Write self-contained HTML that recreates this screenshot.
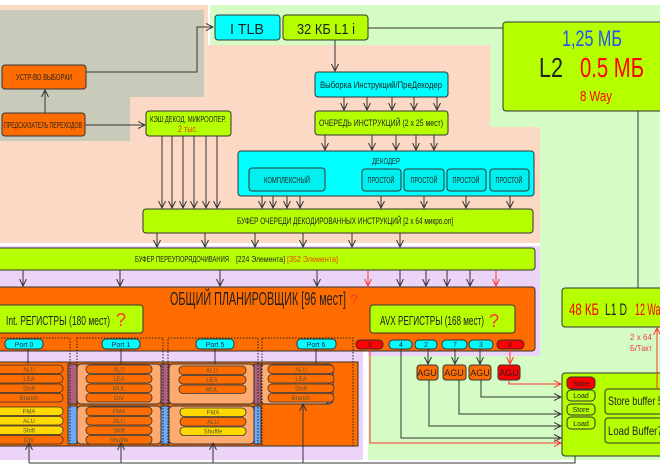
<!DOCTYPE html>
<html><head><meta charset="utf-8"><style>
html,body{margin:0;padding:0;background:#fff;width:660px;height:470px;overflow:hidden}
svg{display:block}
text{font-family:"Liberation Sans","DejaVu Sans",sans-serif}
</style></head><body>
<svg width="660" height="470" viewBox="0 0 660 470" xmlns="http://www.w3.org/2000/svg">
<defs>
<marker id="a" markerWidth="8" markerHeight="8" refX="7" refY="4" orient="auto" markerUnits="userSpaceOnUse"><path d="M0,0.5 L7,4 L0,7.5" fill="none" stroke="#333" stroke-width="1"/></marker>
<marker id="r" markerWidth="8" markerHeight="8" refX="7" refY="4" orient="auto" markerUnits="userSpaceOnUse"><path d="M0,0.5 L7,4 L0,7.5" fill="none" stroke="#f33" stroke-width="1"/></marker>
</defs>
<!-- backgrounds -->
<rect x="0" y="0" width="660" height="470" fill="#fff"/>
<rect x="0" y="5" width="208" height="240" fill="#fcd9c4"/>
<rect x="210" y="5" width="450" height="455" fill="#d4fcc4"/>
<polygon points="208,45 490,45 490,127 540,127 540,245 208,245" fill="#fcd9c4"/>
<polygon points="0,10 204,10 204,97 130,97 130,141 0,141" fill="#c8cbb9"/>
<polygon points="0,245 540,245 540,356 365,356 365,460 0,460" fill="#ecd3f8"/>
<rect x="0" y="243" width="540" height="3" fill="#fff"/>
<rect x="0" y="460" width="660" height="10" fill="#fff"/>
<rect x="363" y="350" width="5" height="110" fill="#fff"/>

<g stroke="#333" stroke-width="1">
<!-- top boxes -->
<rect x="215" y="15" width="65" height="25" rx="3" fill="#00ffff"/>
<rect x="283" y="15" width="85" height="25" rx="3" fill="#b5ff00"/>
<rect x="503" y="22" width="165" height="89" rx="3" fill="#b5ff00"/>
<rect x="2" y="65" width="84" height="24" rx="3" fill="#ff6d00"/>
<rect x="2" y="113" width="83" height="23" rx="3" fill="#ff6d00"/>
<rect x="146" y="111" width="85" height="25" rx="3" fill="#b5ff00"/>
<rect x="315" y="72" width="133" height="25" rx="3" fill="#00ffff"/>
<rect x="315" y="111" width="133" height="24" rx="3" fill="#b5ff00"/>
<rect x="238" y="151" width="296" height="45" rx="3" fill="#00ffff"/>
<rect x="249" y="168" width="76" height="23" rx="3" fill="#00f0f0"/>
<rect x="362" y="169" width="39" height="22" rx="3" fill="#00f0f0"/>
<rect x="404" y="169" width="40" height="22" rx="3" fill="#00f0f0"/>
<rect x="447" y="169" width="39" height="22" rx="3" fill="#00f0f0"/>
<rect x="490" y="169" width="39" height="22" rx="3" fill="#00f0f0"/>
<rect x="143" y="209" width="390" height="24" rx="3" fill="#b5ff00"/>
<rect x="-5" y="248" width="540" height="22" rx="3" fill="#b5ff00"/>
<rect x="-5" y="287" width="540" height="64" rx="3" fill="#ff6d00"/>
<rect x="-5" y="305" width="148" height="28" rx="3" fill="#b5ff00"/>
<rect x="370" y="305" width="145" height="28" rx="3" fill="#b5ff00"/>
<rect x="562" y="288" width="110" height="39" rx="3" fill="#b5ff00"/>
<rect x="562" y="373" width="110" height="83" rx="3" fill="#b5ff00"/>
<rect x="605" y="389" width="70" height="25" rx="3" fill="#b5ff00"/>
<rect x="605" y="418" width="70" height="25" rx="3" fill="#b5ff00"/>
<rect x="567" y="377" width="28" height="12" rx="4" fill="#ff0000"/>
<rect x="567" y="390" width="28" height="11" rx="4" fill="#b5ff00"/>
<rect x="567" y="404" width="28" height="11" rx="4" fill="#b5ff00"/>
<rect x="567" y="417" width="28" height="12" rx="4" fill="#b5ff00"/>
<!-- AGUs -->
<rect x="417" y="365" width="21" height="15" rx="3" fill="#ff6d00"/>
<rect x="443" y="365" width="23" height="15" rx="3" fill="#ff6d00"/>
<rect x="469" y="365" width="22" height="15" rx="3" fill="#ff6d00"/>
<rect x="498" y="365" width="22" height="15" rx="3" fill="#ff0000"/>
<!-- ports -->
<rect x="5" y="339" width="38" height="10" rx="4" fill="#00ffff"/>
<rect x="102" y="339" width="38" height="10" rx="4" fill="#00ffff"/>
<rect x="196" y="339" width="38" height="10" rx="4" fill="#00ffff"/>
<rect x="297" y="339" width="39" height="10" rx="4" fill="#00ffff"/>
<rect x="356" y="340" width="27" height="9" rx="4" fill="#ff0000"/>
<rect x="389" y="340" width="23" height="9" rx="4" fill="#00ffff"/>
<rect x="415" y="340" width="22" height="9" rx="4" fill="#00ffff"/>
<rect x="442" y="340" width="25" height="9" rx="4" fill="#00ffff"/>
<rect x="469" y="340" width="24" height="9" rx="4" fill="#00ffff"/>
<rect x="497" y="340" width="27" height="9" rx="4" fill="#ff0000"/>
</g>

<!-- execution units area -->
<rect x="-3" y="362" width="361" height="84" fill="#ff6d00" stroke="#333"/>
<g stroke="#333" stroke-width="1">
<rect x="68" y="364" width="9" height="40" fill="#b0607a"/>
<rect x="161" y="364" width="8" height="40" fill="#b0607a"/>
<rect x="254" y="364" width="7" height="40" fill="#b0607a"/>
<rect x="68" y="406" width="9" height="38" fill="#6fa8f0"/>
<rect x="161" y="406" width="8" height="38" fill="#6fa8f0"/>
<rect x="254" y="406" width="7" height="38" fill="#6fa8f0"/>
<rect x="77" y="364" width="84" height="40" rx="4" fill="#ffab70"/>
<rect x="169" y="364" width="85" height="40" rx="4" fill="#ffab70"/>
<rect x="77" y="406" width="84" height="38" rx="4" fill="#ffab70"/>
<rect x="169" y="406" width="85" height="38" rx="4" fill="#ffab70"/>
<rect x="261" y="364" width="72" height="40" rx="4" fill="#c47090"/>
<rect x="261" y="364" width="68" height="40" rx="4" fill="#ffab70"/>
</g>
<g stroke="#333" stroke-width="0.8" font-size="6" text-anchor="middle">
<!-- group 0 -->
<rect x="-5" y="365" width="68" height="8.5" rx="4" fill="#ff6d00"/>
<rect x="-5" y="374.5" width="68" height="8.5" rx="4" fill="#ff6d00"/>
<rect x="-5" y="384" width="68" height="8.5" rx="4" fill="#ff6d00"/>
<rect x="-5" y="393.5" width="68" height="8.5" rx="4" fill="#ff6d00"/>
<rect x="-5" y="407" width="68" height="8.5" rx="4" fill="#ffd800"/>
<rect x="-5" y="416.5" width="68" height="8.5" rx="4" fill="#ffd800"/>
<rect x="-5" y="426" width="68" height="8.5" rx="4" fill="#ffd800"/>
<rect x="-5" y="435.5" width="68" height="8.5" rx="4" fill="#ff6d00"/>
<!-- group 1 -->
<rect x="86" y="365" width="66" height="8.5" rx="4" fill="#ff6d00"/>
<rect x="86" y="374.5" width="66" height="8.5" rx="4" fill="#ff6d00"/>
<rect x="86" y="384" width="66" height="8.5" rx="4" fill="#ff6d00"/>
<rect x="86" y="393.5" width="66" height="8.5" rx="4" fill="#ff6d00"/>
<rect x="86" y="407" width="66" height="8.5" rx="4" fill="#ff6d00"/>
<rect x="86" y="416.5" width="66" height="8.5" rx="4" fill="#ff6d00"/>
<rect x="86" y="426" width="66" height="8.5" rx="4" fill="#ff6d00"/>
<rect x="86" y="435.5" width="66" height="8.5" rx="4" fill="#ff6d00"/>
<!-- group 5 -->
<rect x="179" y="366" width="67" height="8.5" rx="4" fill="#ff6d00"/>
<rect x="179" y="375.5" width="67" height="8.5" rx="4" fill="#ff6d00"/>
<rect x="179" y="385" width="67" height="8.5" rx="4" fill="#ff6d00"/>
<rect x="180" y="408" width="66" height="8.5" rx="4" fill="#ffd800"/>
<rect x="180" y="417.5" width="66" height="8.5" rx="4" fill="#ff6d00"/>
<rect x="180" y="427" width="66" height="8.5" rx="4" fill="#ffd800"/>
<!-- group 6 -->
<rect x="268" y="365" width="66" height="8.5" rx="4" fill="#ff6d00"/>
<rect x="268" y="374.5" width="66" height="8.5" rx="4" fill="#ff6d00"/>
<rect x="268" y="384" width="66" height="8.5" rx="4" fill="#ff6d00"/>
<rect x="268" y="393.5" width="66" height="8.5" rx="4" fill="#ff6d00"/>
</g>
<g font-size="6" fill="#553" text-anchor="middle">
<text x="29" y="371.5">ALU</text><text x="29" y="381">LEA</text><text x="29" y="390.5">Shift</text><text x="29" y="400">Branch</text>
<text x="29" y="413.5">FMA</text><text x="29" y="423">ALU</text><text x="29" y="432.5">Shift</text><text x="29" y="442">DIV</text>
<text x="119" y="371.5">ALU</text><text x="119" y="381">LEA</text><text x="119" y="390.5">MUL</text><text x="119" y="400">DIV</text>
<text x="119" y="413.5">FMA</text><text x="119" y="423">ALU</text><text x="119" y="432.5">Shift</text><text x="119" y="442">Shuffle</text>
<text x="212" y="372.5">ALU</text><text x="212" y="382">LEA</text><text x="212" y="391.5">MUL</text>
<text x="213" y="414.5">FMA</text><text x="213" y="424">ALU</text><text x="213" y="433.5">Shuffle</text>
<text x="301" y="371.5">ALU</text><text x="301" y="381">LEA</text><text x="301" y="390.5">Shift</text><text x="301" y="400">Branch</text>
</g>
<!-- dotted outlines -->
<g fill="none" stroke="#222" stroke-width="1" stroke-dasharray="1.5,1.5">
<rect x="-2" y="338" width="72" height="108"/>
<rect x="77" y="338" width="86" height="108"/>
<rect x="168" y="338" width="90" height="108"/>
<rect x="262" y="338" width="91" height="108"/>
</g>

<!-- connectors -->
<g fill="none" stroke="#333" stroke-width="1">
<path d="M86,72 H197 V27 H213" marker-end="url(#a)"/>
<path d="M45,113 V90" marker-end="url(#a)"/>
<path d="M85,125 H145" marker-end="url(#a)"/>
<path d="M368,28 H503"/>
<path d="M638,111 V288"/>
<path d="M335,40 V71" marker-end="url(#a)"/>
<path d="M344,97V110M367,97V110M392,97V110M414,97V110M437,97V110" marker-end="url(#a)"/>
<path d="M344,97V110" marker-end="url(#a)"/><path d="M367,97V110" marker-end="url(#a)"/><path d="M392,97V110" marker-end="url(#a)"/><path d="M414,97V110" marker-end="url(#a)"/>
<path d="M325,135V150" marker-end="url(#a)"/><path d="M372,135V150" marker-end="url(#a)"/><path d="M396,135V150" marker-end="url(#a)"/><path d="M416,135V150" marker-end="url(#a)"/><path d="M434,135V150" marker-end="url(#a)"/>
<path d="M162,136V208" marker-end="url(#a)"/><path d="M172,136V208" marker-end="url(#a)"/><path d="M183,136V208" marker-end="url(#a)"/><path d="M194,136V208" marker-end="url(#a)"/><path d="M206,136V208" marker-end="url(#a)"/><path d="M217,136V208" marker-end="url(#a)"/>
<path d="M262,196V208" marker-end="url(#a)"/><path d="M273,196V208" marker-end="url(#a)"/><path d="M287,196V208" marker-end="url(#a)"/><path d="M300,196V208" marker-end="url(#a)"/>
<path d="M381,196V208" marker-end="url(#a)"/><path d="M424,196V208" marker-end="url(#a)"/><path d="M466,196V208" marker-end="url(#a)"/><path d="M510,196V208" marker-end="url(#a)"/>
<path d="M157,233V247" marker-end="url(#a)"/><path d="M205,233V247" marker-end="url(#a)"/><path d="M255,233V247" marker-end="url(#a)"/><path d="M303,233V247" marker-end="url(#a)"/><path d="M352,233V247" marker-end="url(#a)"/><path d="M400,233V247" marker-end="url(#a)"/>
<path d="M23,270V286" marker-end="url(#a)"/><path d="M120,270V286" marker-end="url(#a)"/><path d="M220,270V286" marker-end="url(#a)"/><path d="M317,270V286" marker-end="url(#a)"/>
<path d="M400,270V286" marker-end="url(#a)"/><path d="M426,270V286" marker-end="url(#a)"/><path d="M447,270V286" marker-end="url(#a)"/><path d="M470,270V286" marker-end="url(#a)"/>
<path d="M28,349V364M121,349V364M215,349V364M316,349V364"/>
<path d="M428,349V364" marker-end="url(#a)"/><path d="M455,349V364" marker-end="url(#a)"/><path d="M480,349V364" marker-end="url(#a)"/>
<path d="M401,349V438H561" marker-end="url(#a)"/>
<path d="M429,380V426H561" marker-end="url(#a)"/>
<path d="M459,380V414H561" marker-end="url(#a)"/>
<path d="M481,380V397H561" marker-end="url(#a)"/>
<path d="M29,463V443" marker-end="url(#a)"/><path d="M121,463V443" marker-end="url(#a)"/><path d="M213,463V443" marker-end="url(#a)"/><path d="M303,463V404" marker-end="url(#a)"/>
<path d="M29,463H575V456"/>
</g>
<g fill="none" stroke="#f33" stroke-width="1">
<path d="M368,270V286" marker-end="url(#r)"/><path d="M496,270V286" marker-end="url(#r)"/>
<path d="M510,349V364" marker-end="url(#r)"/>
<path d="M509,380V384H561" marker-end="url(#r)"/>
<path d="M370,349V443H561" marker-end="url(#r)"/>
<path d="M657,389V328" marker-end="url(#r)"/>
</g>

<!-- text -->
<g fill="#222" text-anchor="middle">
<text x="247" y="34" font-size="15" textLength="34" lengthAdjust="spacingAndGlyphs">I TLB</text>
<text x="326" y="34" font-size="15" textLength="58" lengthAdjust="spacingAndGlyphs">32 КБ L1 i</text>
<text x="592" y="46" font-size="22" fill="#2255ee" textLength="60" lengthAdjust="spacingAndGlyphs">1,25 МБ</text>
<text x="551" y="77" font-size="28" textLength="24" lengthAdjust="spacingAndGlyphs">L2</text>
<text x="612" y="77" font-size="28" fill="#f00" textLength="64" lengthAdjust="spacingAndGlyphs">0.5 МБ</text>
<text x="596" y="101" font-size="15" fill="#f00" textLength="32" lengthAdjust="spacingAndGlyphs">8 Way</text>
<text x="44" y="80" font-size="8" textLength="56" lengthAdjust="spacingAndGlyphs">УСТР-ВО ВЫБОРКИ</text>
<text x="43" y="128" font-size="8" textLength="78" lengthAdjust="spacingAndGlyphs">ПРЕДСКАЗАТЕЛЬ ПЕРЕХОДОВ</text>
<text x="188" y="122" font-size="8" textLength="76" lengthAdjust="spacingAndGlyphs">КЭШ ДЕКОД. МИКРООПЕР.</text>
<text x="188" y="132" font-size="9" fill="#f04000" textLength="20" lengthAdjust="spacingAndGlyphs">2 тыс.</text>
<text x="381" y="88" font-size="9" textLength="122" lengthAdjust="spacingAndGlyphs">Выборка Инструкций/ПреДекодер</text>
<text x="381" y="126" font-size="9" textLength="124" lengthAdjust="spacingAndGlyphs">ОЧЕРЕДЬ ИНСТРУКЦИЙ (2 х 25 мест)</text>
<text x="386" y="164" font-size="8" textLength="28" lengthAdjust="spacingAndGlyphs">ДЕКОДЕР</text>
<text x="287" y="183" font-size="8" textLength="46" lengthAdjust="spacingAndGlyphs">КОМПЛЕКСНЫЙ</text>
<text x="381" y="183" font-size="8" textLength="27" lengthAdjust="spacingAndGlyphs">ПРОСТОЙ</text>
<text x="424" y="183" font-size="8" textLength="27" lengthAdjust="spacingAndGlyphs">ПРОСТОЙ</text>
<text x="466" y="183" font-size="8" textLength="27" lengthAdjust="spacingAndGlyphs">ПРОСТОЙ</text>
<text x="509" y="183" font-size="8" textLength="27" lengthAdjust="spacingAndGlyphs">ПРОСТОЙ</text>
<text x="345" y="224" font-size="9" textLength="216" lengthAdjust="spacingAndGlyphs">БУФЕР ОЧЕРЕДИ ДЕКОДИРОВАННЫХ ИНСТРУКЦИЙ  [2 х 64 микро.оп]</text>
<text x="135" y="262" font-size="8" text-anchor="start" textLength="94" lengthAdjust="spacingAndGlyphs">БУФЕР ПЕРЕУПОРЯДОЧИВАНИЯ</text>
<text x="236" y="262" font-size="8" text-anchor="start" textLength="49" lengthAdjust="spacingAndGlyphs">[224 Элемента]</text>
<text x="287" y="262" font-size="8" text-anchor="start" fill="#f04000" textLength="51" lengthAdjust="spacingAndGlyphs">[352 Элемента]</text>
<text x="170" y="305" font-size="18" text-anchor="start" textLength="176" lengthAdjust="spacingAndGlyphs">ОБЩИЙ ПЛАНИРОВЩИК [96 мест]</text>
<text x="354" y="304" font-size="14" fill="#f33">?</text>
<text x="58" y="325" font-size="13" textLength="104" lengthAdjust="spacingAndGlyphs">Int. РЕГИСТРЫ (180 мест)</text>
<text x="121" y="326" font-size="18" fill="#f33">?</text>
<text x="432" y="325" font-size="13" textLength="104" lengthAdjust="spacingAndGlyphs">AVX РЕГИСТРЫ (168 мест)</text>
<text x="494" y="327" font-size="18" fill="#f33">?</text>
<g font-size="7" fill="#225">
<text x="24" y="347">Port 0</text><text x="121" y="347">Port 1</text><text x="215" y="347">Port 5</text><text x="316" y="347">Port 6</text>
<text x="370" y="347" fill="#600">9</text><text x="401" y="347">4</text><text x="426" y="347">2</text><text x="455" y="347">7</text><text x="481" y="347">3</text><text x="510" y="347" fill="#600">8</text>
</g>
<g font-size="9"><text x="427" y="376">AGU</text><text x="454" y="376">AGU</text><text x="480" y="376">AGU</text><text x="509" y="376">AGU</text></g>
<text x="569" y="315" font-size="17" text-anchor="start" fill="#f00" textLength="30" lengthAdjust="spacingAndGlyphs">48 КБ</text>
<text x="605" y="315" font-size="17" text-anchor="start" textLength="22" lengthAdjust="spacingAndGlyphs">L1 D</text>
<text x="635" y="315" font-size="17" text-anchor="start" fill="#f00" textLength="30" lengthAdjust="spacingAndGlyphs">12 Way</text>
<text x="641" y="340" font-size="8" fill="#f04040" textLength="22" lengthAdjust="spacingAndGlyphs">2 х 64</text>
<text x="641" y="351" font-size="8" fill="#f04040" textLength="22" lengthAdjust="spacingAndGlyphs">Б/Такт</text>
<g font-size="7"><text x="581" y="386">Store</text><text x="581" y="398">Load</text><text x="581" y="412">Store</text><text x="581" y="426">Load</text></g>
<text x="608" y="405" font-size="12" text-anchor="start" textLength="60" lengthAdjust="spacingAndGlyphs">Store buffer 56</text>
<text x="608" y="435" font-size="12" text-anchor="start" textLength="60" lengthAdjust="spacingAndGlyphs">Load Buffer72</text>
</g>
</svg>
</body></html>
